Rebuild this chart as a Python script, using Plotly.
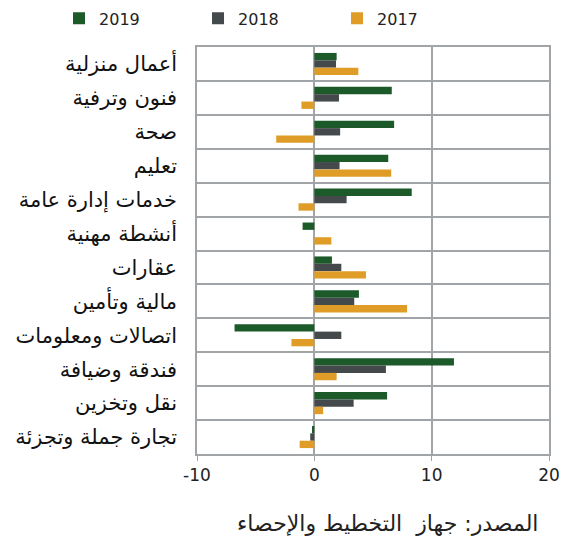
import plotly.graph_objects as go

categories = ["أعمال منزلية", "فنون وترفية", "صحة", "تعليم", "خدمات إدارة عامة",
              "أنشطة مهنية", "عقارات", "مالية وتأمين", "اتصالات ومعلومات",
              "فندقة وضيافة", "نقل وتخزين", "تجارة جملة وتجزئة"]
v2019 = [1.9, 6.6, 6.8, 6.3, 8.3, -1.0, 1.5, 3.8, -6.8, 11.9, 6.2, -0.2]
v2018 = [1.85, 2.1, 2.2, 2.15, 2.75, 0.0, 2.3, 3.4, 2.3, 6.1, 3.35, -0.35]
v2017 = [3.75, -1.1, -3.25, 6.55, -1.35, 1.45, 4.4, 7.9, -1.95, 1.9, 0.75, -1.25]
years = ["2019", "2018", "2017"]
colors = ["#1c5a2a", "#44494b", "#df9d27"]
x_ticks = [-10, 0, 10, 20]
x_ticktext = ["-10", "0", "10", "20"]
source = "المصدر: جهاز  التخطيط والإحصاء"

fig = go.Figure()
for name, vals, c in zip(years, [v2019, v2018, v2017], colors):
    fig.add_trace(go.Bar(y=categories, x=vals, name=name, orientation="h",
                         marker=dict(color=c, line=dict(width=0))))

grid = "#a2a5a8"
fig.update_layout(
    template="none",
    width=574, height=542,
    margin=dict(l=189, r=33, t=39, b=96, autoexpand=False),
    paper_bgcolor="white", plot_bgcolor="white",
    barmode="group", bargap=0.35, bargroupgap=0,
    font=dict(family="Liberation Sans", color="#222"),
    showlegend=True,
    legend=dict(orientation="h", x=-0.392, y=1.112, xanchor="left", yanchor="top",
                font=dict(family="DejaVu Sans", size=16, color="#222"),
                entrywidth=94, itemwidth=30, traceorder="normal"),
    xaxis=dict(range=[-10, 20], tickvals=x_ticks, ticktext=x_ticktext, showgrid=True,
               gridcolor=grid, automargin=False,
               gridwidth=1.5, zeroline=True, zerolinecolor=grid, zerolinewidth=1.5,
               showline=True, linecolor=grid, linewidth=1.5, mirror=True,
               ticks="outside", tickcolor=grid, ticklen=5,
               tickfont=dict(family="DejaVu Sans", size=17, color="#222")),
    yaxis=dict(type="category", autorange="reversed", tickson="boundaries",
               showgrid=True, gridcolor=grid, gridwidth=1.5, automargin=False,
               showline=True, linecolor=grid, linewidth=1.5, mirror=True,
               ticks="", ticklen=0, ticklabelstandoff=14,
               tickfont=dict(family="DejaVu Sans", size=21, color="#111")),
    annotations=[dict(text=source, xref="paper", yref="paper", x=0.975, y=-0.17,
                      xanchor="right", yanchor="middle", showarrow=False,
                      font=dict(family="DejaVu Sans", size=22, color="#222"))],
)
fig.write_html("out.html")
